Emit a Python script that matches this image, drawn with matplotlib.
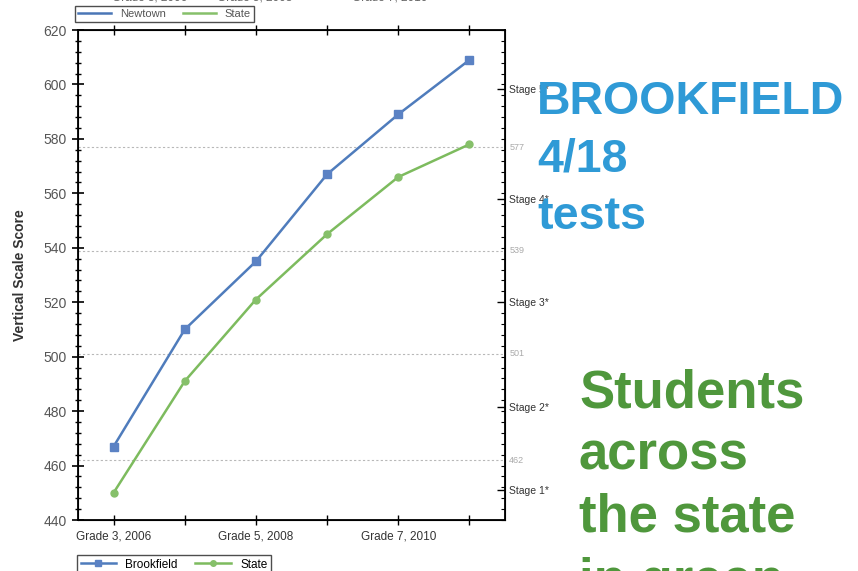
import matplotlib
matplotlib.use("Agg")
import matplotlib.pyplot as plt
from matplotlib.ticker import MultipleLocator, FixedLocator
from matplotlib.lines import Line2D

plt.rcParams['font.family'] = ['Liberation Sans', 'DejaVu Sans']

categories = ["Grade 3, 2006", "Grade 4, 2007", "Grade 5, 2008", "Grade 6, 2009", "Grade 7, 2010", "Grade 8, 2011"]
shown_labels = ["Grade 3, 2006", "", "Grade 5, 2008", "", "Grade 7, 2010", ""]
brookfield = [467, 510, 535, 567, 589, 609]
state = [450, 491, 521, 545, 566, 578]
cut_scores = [462, 501, 539, 577]
stage_labels = ["Stage 1*", "Stage 2*", "Stage 3*", "Stage 4*", "Stage 5*"]
stage_positions = [451, 481.5, 520, 558, 598.5]

W, H = 858, 571
fig = plt.figure(figsize=(W / 100, H / 100), dpi=100)
ax = fig.add_axes([78 / W, 1 - 520 / H, (505 - 78) / W, (520 - 30) / H])

x = list(range(len(categories)))
blue = "#4f7cbc"
green = "#7dbb5e"

for c in cut_scores:
    ax.axhline(c, color="#b8b8b8", lw=0.8, ls=(0, (2, 2)), zorder=1)

ax.plot(x, brookfield, color=blue, lw=1.8, marker="s", ms=6, mfc="#5b82c4", mec="#5b82c4", zorder=3, label="Brookfield")
ax.plot(x, state, color=green, lw=1.8, marker="o", ms=5, mfc="#86c06a", mec="#86c06a", zorder=3, label="State")

ax.set_xlim(-0.5, 5.5)
ax.set_ylim(440, 620)
ax.yaxis.set_major_locator(MultipleLocator(20))
ax.yaxis.set_minor_locator(MultipleLocator(4))
ax.set_xticks(x)
ax.set_xticklabels(shown_labels, fontsize=8.5, color="#333333")
ax.tick_params(axis="y", which="major", direction="inout", length=9, width=1.2, labelsize=10, labelcolor="#555555")
ax.tick_params(axis="y", which="minor", direction="inout", length=5, width=1)
ax.tick_params(axis="x", which="major", direction="inout", length=7, width=1, top=True, pad=4)
for s in ax.spines.values():
    s.set_linewidth(1.3)
ax.set_ylabel("Vertical Scale Score", fontsize=10, fontweight="bold", color="#333333", labelpad=12)

# right stage axis
ax2 = ax.twinx()
ax2.set_ylim(440, 620)
ax2.yaxis.set_major_locator(FixedLocator(stage_positions))
ax2.set_yticklabels(stage_labels, fontsize=7.5, color="#333333")
ax2.yaxis.set_minor_locator(MultipleLocator(4))
ax2.tick_params(axis="y", which="major", direction="in", length=6, width=1, pad=3)
ax2.tick_params(axis="y", which="minor", direction="in", length=3, width=0.8)
for c in cut_scores:
    ax2.text(1.01, c, str(c), transform=ax2.get_yaxis_transform(), fontsize=6.5,
             color="#aaaaaa", va="center", ha="left")

# bottom legend
handles = [Line2D([], [], color=blue, lw=1.8, marker="s", ms=5, mfc="#5b82c4", mec="#5b82c4"),
           Line2D([], [], color=green, lw=1.8, marker="o", ms=4, mfc="#86c06a", mec="#86c06a")]
leg = fig.legend(handles, ["Brookfield", "State"], loc="upper left",
                 bbox_to_anchor=(77 / W, 1 - 555 / H), borderaxespad=0, ncol=2, fontsize=8.5,
                 frameon=True, fancybox=False, edgecolor="#222222", borderpad=0.3,
                 handlelength=3.0, columnspacing=1.5, handletextpad=0.8)
leg.get_frame().set_linewidth(1.0)

# top cut-off legend of a previous chart
top_handles = [Line2D([], [], color="#4a76b6", lw=1.8), Line2D([], [], color="#86c06a", lw=1.8)]
leg2 = fig.legend(top_handles, ["Newtown", "State"], loc="upper left",
                  bbox_to_anchor=(75 / W, 1 - 6 / H), borderaxespad=0, ncol=2, fontsize=8,
                  frameon=True, fancybox=False, edgecolor="#222222", borderpad=0.25,
                  handlelength=3.0, columnspacing=1.5, handletextpad=0.8)
leg2.get_frame().set_linewidth(1.0)
for t in leg2.get_texts():
    t.set_color("#555555")

# cut-off labels at the top edge
for tx, xp in [("Grade 3, 2006", 150), ("Grade 5, 2008", 255), ("Grade 7, 2010", 390)]:
    fig.text(xp / W, 1 + 3 / H, tx, fontsize=8.5, color="#666666", ha="center", va="center")

# annotation texts
blue_txt = "#2f9ad6"
green_txt = "#4f973c"
for line, yp in [("BROOKFIELD", 114), ("4/18", 171), ("tests", 229)]:
    fig.text(537 / W, 1 - yp / H, line, fontsize=33.5, fontweight="bold", color=blue_txt,
             ha="left", va="baseline")
for line, yp in [("Students", 407), ("across", 469), ("the state", 531), ("in green", 596)]:
    fig.text(579 / W, 1 - yp / H, line, fontsize=38, fontweight="bold", color=green_txt,
             ha="left", va="baseline")

fig.savefig("out.png", dpi=100)
